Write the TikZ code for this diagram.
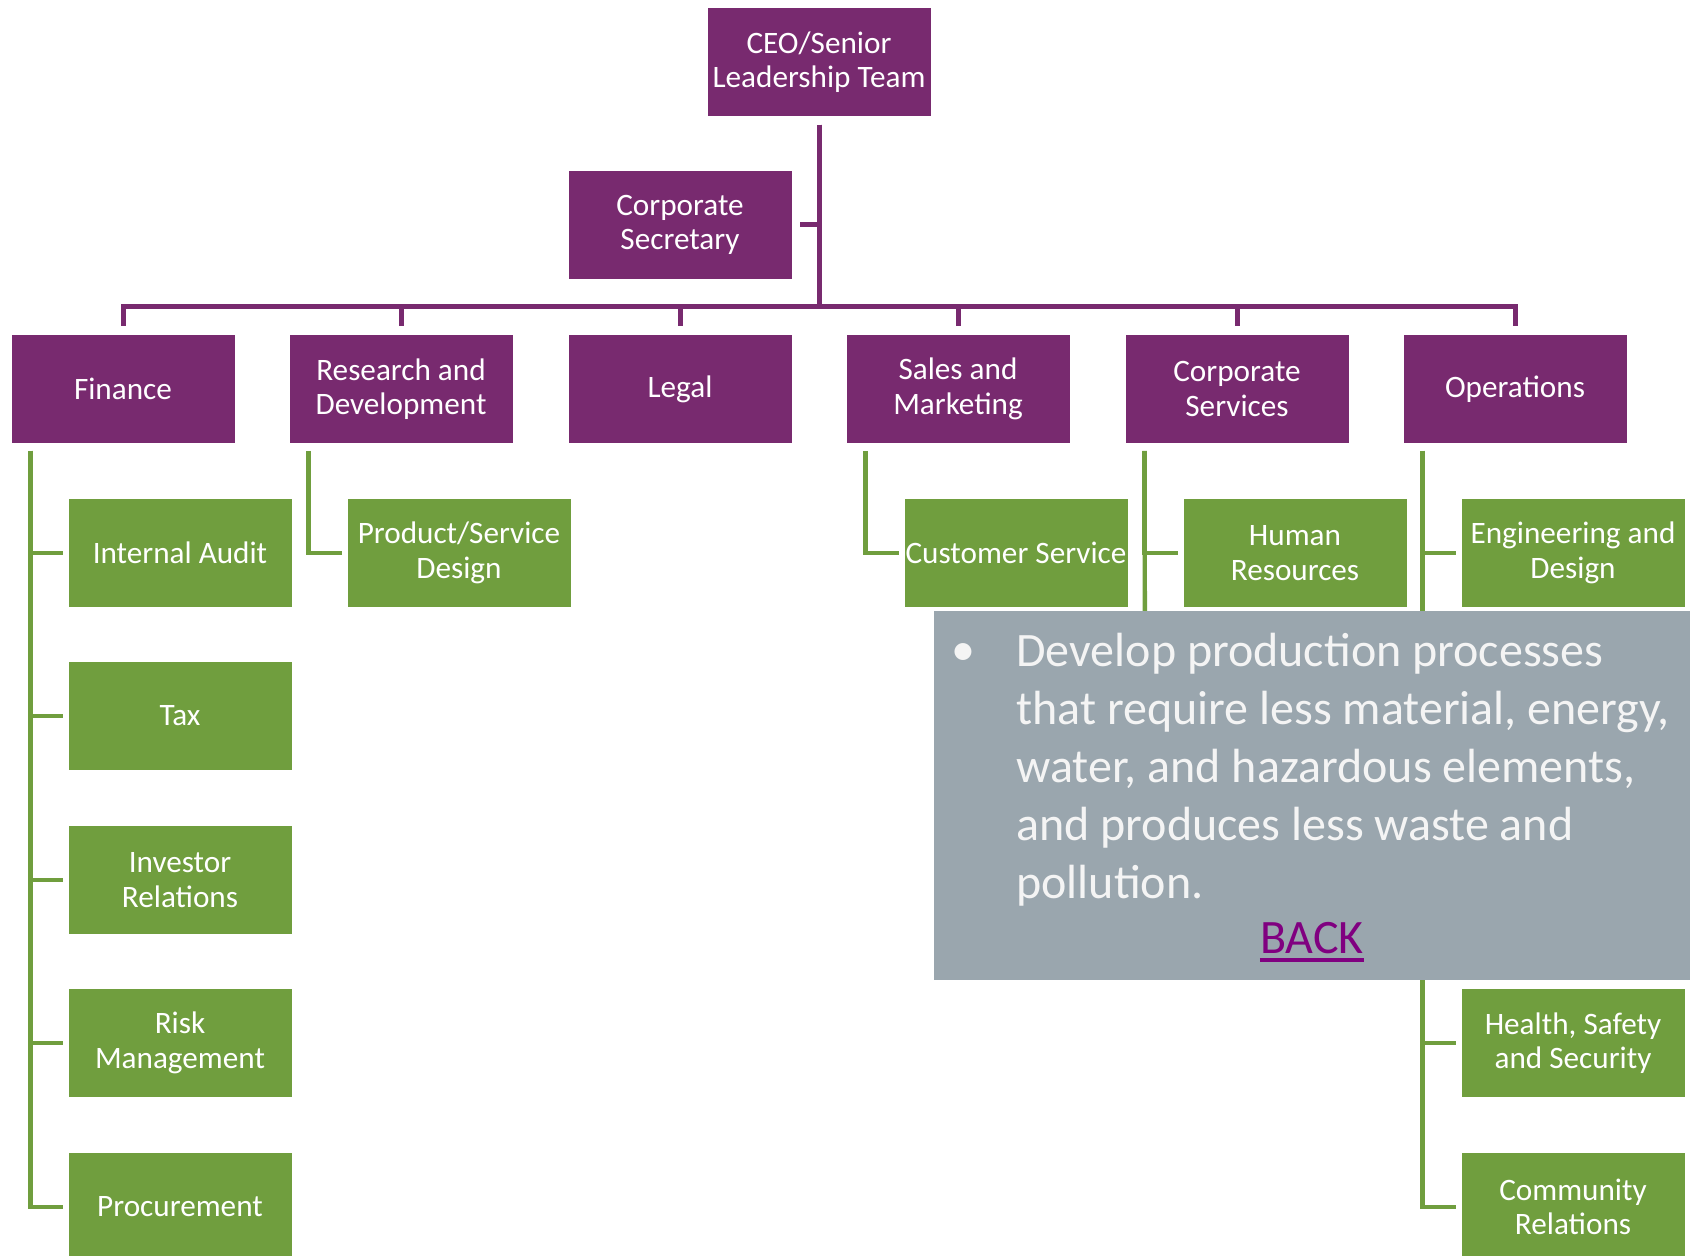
\documentclass[tikz,border=0pt]{standalone}
\usepackage{fontspec}
\setmainfont{Carlito}
\usepackage{tikz}
\definecolor{orgpurple}{RGB}{120,42,111}
\definecolor{orggreen}{RGB}{112,158,62}
\definecolor{notegray}{RGB}{154,166,174}
\definecolor{notetext}{RGB}{244,244,244}
\definecolor{backpurple}{RGB}{128,0,128}

\begin{document}
\begin{tikzpicture}[x=0.5pt,y=-0.5pt,
  dept/.style={fill=orgpurple,draw=white,line width=0.4pt,text=white,minimum width=112pt,minimum height=54.5pt,inner sep=0pt,align=center,font=\fontsize{15.6}{17.3}\selectfont},
  team/.style={dept,fill=orggreen},
  plink/.style={orgpurple,line width=2.5pt,shorten <=4pt,shorten >=4pt},
  glink/.style={orggreen,line width=2.2pt,shorten >=2.5pt},
  notefont/.style={text=notetext,inner sep=0pt,font=\fontsize{24}{29}\selectfont}]
\useasboundingbox (0,0) rectangle (1690,1256);

\node[dept] (ceo) at (819,62) {CEO/Senior\\Leadership Team};
\node[dept] (sec) at (680,225) {Corporate\\Secretary};
\node[dept] (finance) at (123,389) {Finance};
\node[dept] (rd) at (401,389) {Research and\\Development};
\node[dept] (legal) at (680,389) {Legal};
\node[dept] (sales) at (958,389) {Sales and\\Marketing};
\node[dept] (corpserv) at (1237,389) {Corporate\\Services};
\node[dept] (ops) at (1515,389) {Operations};

\node[team] (audit) at (180,553) {Internal Audit};
\node[team] (tax) at (180,716) {Tax};
\node[team] (investor) at (180,880) {Investor\\Relations};
\node[team] (risk) at (180,1043) {Risk\\Management};
\node[team] (procure) at (180,1207) {Procurement};
\node[team] (design) at (459,553) {Product/Service\\Design};
\node[team] (custserv) at (1016,553) {Customer Service};
\node[team] (hr) at (1295,553) {Human\\Resources};
\node[team] (eng) at (1573,553) {Engineering and\\Design};
\node[team] (safety) at (1573,1043) {Health, Safety\\and Security};
\node[team] (community) at (1573,1207) {Community\\Relations};

\coordinate (bus) at (819,307);
\foreach \d in {finance,rd,legal,sales,corpserv,ops}
  \draw[plink] (ceo.south) |- (bus) -| (\d.north);
\draw[plink,shorten >=0pt] (sec.east) -- (sec.east -| ceo.south);

\coordinate (fintop) at ([xshift=10pt,yshift=-3.5pt]finance.south west);
\coordinate (rdtop) at ([xshift=10pt,yshift=-3.5pt]rd.south west);
\coordinate (salestop) at ([xshift=10pt,yshift=-3.5pt]sales.south west);
\coordinate (cstop) at ([xshift=10pt,yshift=-3.5pt]corpserv.south west);
\coordinate (opstop) at ([xshift=10pt,yshift=-3.5pt]ops.south west);
\coordinate (csend) at (1145,760);
\foreach \t in {audit,tax,investor,risk,procure}
  \draw[glink] (fintop) |- (\t.west);
\draw[glink] (rdtop) |- (design.west);
\draw[glink] (salestop) |- (custserv.west);
\draw[glink] (cstop) |- (hr.west);
\draw[orggreen,line width=2.2pt] (cstop) -- (csend);
\foreach \t in {eng,safety,community}
  \draw[glink] (opstop) |- (\t.west);

% pop-up note
\node[fill=notegray,minimum width=378pt,minimum height=184.5pt,inner sep=0pt,anchor=north west] (note) at (934,611) {};
\node[notefont,anchor=base west] (dot) at (951,665) {•};
\node[notefont,anchor=base west,align=left] (notetxt) at (1016,898) {Develop production processes\\that require less material, energy,\\water, and hazardous elements,\\and produces less waste and\\pollution.};
\node[notefont,text=backpurple,anchor=base] (back) at (1312,953) {BACK};
\draw[backpurple,line width=1.6pt] ([yshift=-3.5pt]back.base west) -- ([yshift=-3.5pt]back.base east);
\end{tikzpicture}
\end{document}
